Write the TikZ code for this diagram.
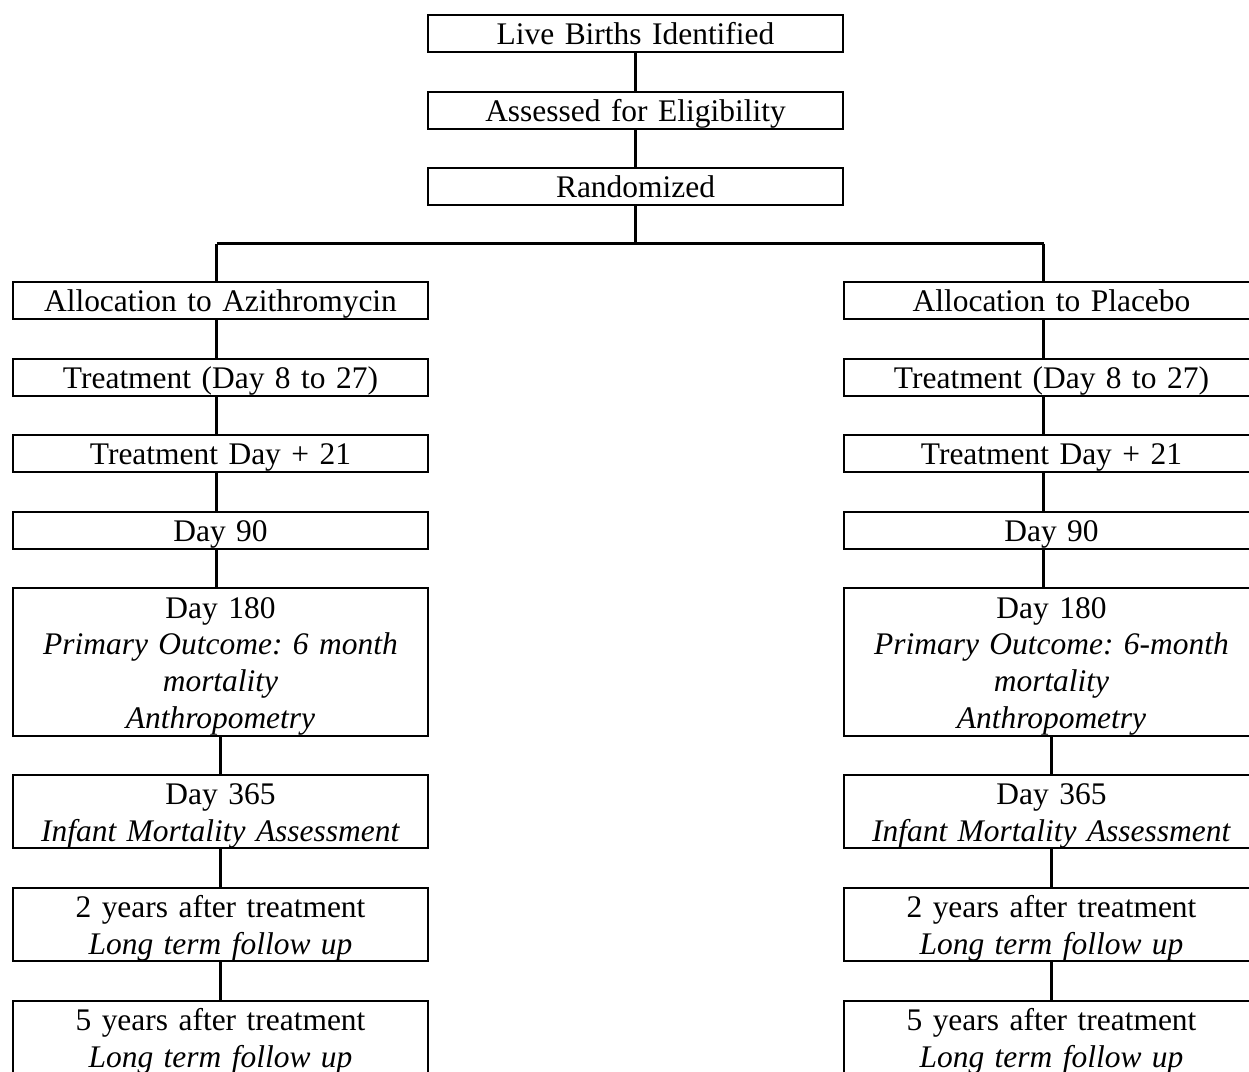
\documentclass[tikz,border=0pt]{standalone}
\usepackage{fontspec}
\setmainfont{Liberation Serif}
\usetikzlibrary{positioning,calc}
\newcommand{\ls}{\rule[-4pt]{0pt}{21pt}}

\begin{document}
\begin{tikzpicture}[x=0.02cm,y=-0.02cm,
  box/.style={draw, line width=1.1pt, inner sep=0pt, minimum width=8.32cm, text width=8.32cm, align=center, font=\fontsize{17.9}{21}\selectfont\frenchspacing},
  link/.style={line width=1.2pt}]
\useasboundingbox (0,0) rectangle (1249,1072);
\clip (0,0) rectangle (1249,1072);
%%%% top column
\node[box] (live) at (635.5,33.5) {\ls Live Births Identified};
\node[box] (assess) at (635.5,110.5) {\ls Assessed for Eligibility};
\node[box] (rand) at (635.5,186.5) {\ls Randomized};
\draw[link] (live) -- (assess);
\draw[link] (assess) -- (rand);
%%%% branch
\coordinate (brL) at (216.5,243.5);
\coordinate (brR) at (1043.5,243.5);
\draw[link] (brL) -- (brR);
\draw[link] (rand.south) -- (rand.south |- brL);
%%%% azithromycin arm
\node[box] (allocA) at (220.5,300.5) {\ls Allocation to Azithromycin};
\node[box] (treatA) at (220.5,377.5) {\ls Treatment (Day 8 to 27)};
\node[box] (tdA) at (220.5,453.5) {\ls Treatment Day + 21};
\node[box] (dninA) at (220.5,530.5) {\ls Day 90};
\node[box] (dhalfA) at (220.5,662) {\ls Day 180\\ \ls\textit{Primary Outcome: 6 month}\\ \ls\textit{mortality}\\ \ls\textit{Anthropometry}};
\node[box] (dyearA) at (220.5,811.5) {\ls Day 365\\ \ls\textit{Infant Mortality Assessment}};
\node[box] (ytwoA) at (220.5,924.5) {\ls 2 years after treatment\\ \ls\textit{Long term follow up}};
\node[box] (yfiveA) at (220.5,1037.5) {\ls 5 years after treatment\\ \ls\textit{Long term follow up}};
\draw[link] (brL) -- (brL |- allocA.north);
\draw[link] (allocA.south -| brL) -- (treatA.north -| brL);
\draw[link] (treatA.south -| brL) -- (tdA.north -| brL);
\draw[link] (tdA.south -| brL) -- (dninA.north -| brL);
\draw[link] (dninA.south -| brL) -- (dhalfA.north -| brL);
\draw[link] (dhalfA) -- (dyearA);
\draw[link] (dyearA) -- (ytwoA);
\draw[link] (ytwoA) -- (yfiveA);
%%%% placebo arm
\node[box] (allocP) at (1051.5,300.5) {\ls Allocation to Placebo};
\node[box] (treatP) at (1051.5,377.5) {\ls Treatment (Day 8 to 27)};
\node[box] (tdP) at (1051.5,453.5) {\ls Treatment Day + 21};
\node[box] (dninP) at (1051.5,530.5) {\ls Day 90};
\node[box] (dhalfP) at (1051.5,662) {\ls Day 180\\ \ls\textit{Primary Outcome: 6-month}\\ \ls\textit{mortality}\\ \ls\textit{Anthropometry}};
\node[box] (dyearP) at (1051.5,811.5) {\ls Day 365\\ \ls\textit{Infant Mortality Assessment}};
\node[box] (ytwoP) at (1051.5,924.5) {\ls 2 years after treatment\\ \ls\textit{Long term follow up}};
\node[box] (yfiveP) at (1051.5,1037.5) {\ls 5 years after treatment\\ \ls\textit{Long term follow up}};
\draw[link] (brR) -- (brR |- allocP.north);
\draw[link] (allocP.south -| brR) -- (treatP.north -| brR);
\draw[link] (treatP.south -| brR) -- (tdP.north -| brR);
\draw[link] (tdP.south -| brR) -- (dninP.north -| brR);
\draw[link] (dninP.south -| brR) -- (dhalfP.north -| brR);
\draw[link] (dhalfP) -- (dyearP);
\draw[link] (dyearP) -- (ytwoP);
\draw[link] (ytwoP) -- (yfiveP);
\end{tikzpicture}
\end{document}
